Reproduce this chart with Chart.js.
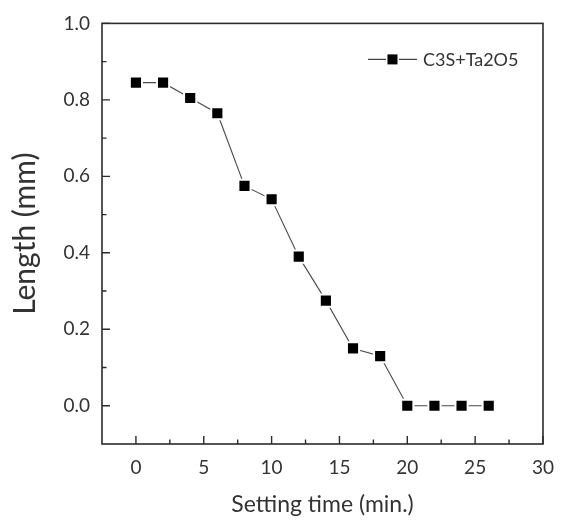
<!DOCTYPE html>
<html>
<head>
<meta charset="utf-8">
<script src="https://cdn.jsdelivr.net/npm/chart.js@4/dist/chart.umd.min.js"></script>
<style>
  html, body { margin: 0; padding: 0; background: #fff; }
</style>
</head>
<body>
<canvas id="lengthCanvas" width="566" height="520"></canvas>
<script>
// data
const settingTime = [0, 2, 4, 6, 8, 10, 12, 14, 16, 18, 20, 22, 24, 26];
const lengthMm = [0.845, 0.845, 0.805, 0.765, 0.575, 0.54, 0.39, 0.275, 0.15, 0.13, 0, 0, 0, 0];
const seriesName = "C3S+Ta2O5";

const xTicks = [0, 5, 10, 15, 20, 25, 30];
const yTicks = [0.0, 0.2, 0.4, 0.6, 0.8, 1.0];

const axisColor = "#2b2b2b";
const textColor = "#333";
const fontFamily = "Lato, 'Open Sans', sans-serif";

function midpoints(arr) {
  const out = [];
  for (let i = 0; i < arr.length - 1; i++) out.push((arr[i] + arr[i + 1]) / 2);
  return out;
}

// frame, inward ticks and the legend inside the plot
const framePlugin = {
  id: "frame",
  afterDraw(chart) {
    const ctx = chart.ctx;
    const area = chart.chartArea;
    const xs = chart.scales.x;
    const ys = chart.scales.y;

    ctx.save();
    ctx.strokeStyle = axisColor;
    ctx.lineWidth = 1.6;
    ctx.strokeRect(area.left, area.top, area.right - area.left, area.bottom - area.top);

    ctx.lineWidth = 1.4;
    ctx.beginPath();
    xTicks.forEach(v => {
      const px = xs.getPixelForValue(v);
      ctx.moveTo(px, area.bottom);
      ctx.lineTo(px, area.bottom - 8);
    });
    midpoints(xTicks).forEach(v => {
      const px = xs.getPixelForValue(v);
      ctx.moveTo(px, area.bottom);
      ctx.lineTo(px, area.bottom - 4.5);
    });
    yTicks.forEach(v => {
      const py = ys.getPixelForValue(v);
      ctx.moveTo(area.left, py);
      ctx.lineTo(area.left + 8, py);
    });
    midpoints(yTicks).forEach(v => {
      const py = ys.getPixelForValue(v);
      ctx.moveTo(area.left, py);
      ctx.lineTo(area.left + 4.5, py);
    });
    ctx.stroke();

    // legend
    const ly = area.top + 36;
    const lx = area.right - 175;
    ctx.strokeStyle = "#444";
    ctx.lineWidth = 1.1;
    ctx.beginPath();
    ctx.moveTo(lx, ly);
    ctx.lineTo(lx + 49, ly);
    ctx.stroke();
    ctx.fillStyle = "#fff";
    ctx.fillRect(lx + 18, ly - 6.5, 13, 13);
    ctx.fillStyle = "#000";
    ctx.fillRect(lx + 19.5, ly - 5, 10, 10);
    ctx.fillStyle = textColor;
    ctx.font = "18px " + fontFamily;
    ctx.textBaseline = "middle";
    ctx.textAlign = "left";
    ctx.fillText(seriesName, lx + 55, ly + 1);
    ctx.restore();
  }
};

const chartConfig = {
  type: "line",
  data: {
    datasets: [
      {
        label: seriesName,
        data: settingTime.map((t, i) => ({ x: t, y: lengthMm[i] })),
        borderColor: "#4a4a4a",
        borderWidth: 1.1,
        pointStyle: "rect",
        pointRadius: 8.6,
        pointBackgroundColor: "#000",
        pointBorderColor: "#fff",
        pointBorderWidth: 2,
        tension: 0,
        clip: false
      }
    ]
  },
  options: {
    responsive: false,
    animation: false,
    layout: { padding: { left: 0, right: 13, top: 17, bottom: 0 } },
    plugins: {
      legend: { display: false },
      tooltip: { enabled: false }
    },
    scales: {
      x: {
        type: "linear",
        min: -2.5,
        max: 30,
        afterBuildTicks: scale => { scale.ticks = xTicks.map(v => ({ value: v })); },
        afterFit: scale => { scale.height = 76; },
        grid: { display: false, drawTicks: false },
        border: { display: false },
        ticks: {
          padding: 12,
          color: textColor,
          font: { family: fontFamily, size: 19 },
          callback: v => String(v)
        },
        title: {
          display: true,
          text: "Setting time (min.)",
          color: textColor,
          font: { family: fontFamily, size: 23 },
          padding: { top: 0, bottom: 2 }
        }
      },
      y: {
        type: "linear",
        min: -0.1,
        max: 1.0,
        afterBuildTicks: scale => { scale.ticks = yTicks.map(v => ({ value: v })); },
        afterFit: scale => { scale.width = 102; },
        grid: { display: false, drawTicks: false },
        border: { display: false },
        ticks: {
          padding: 12,
          color: textColor,
          font: { family: fontFamily, size: 19 },
          callback: v => Number(v).toFixed(1)
        },
        title: {
          display: true,
          text: "Length (mm)",
          color: textColor,
          font: { family: fontFamily, size: 30 },
          padding: { top: 7, bottom: 0 }
        }
      }
    }
  },
  plugins: [framePlugin]
};

window.chart = new Chart(document.getElementById("lengthCanvas").getContext("2d"), chartConfig);
</script>
</body>
</html>
